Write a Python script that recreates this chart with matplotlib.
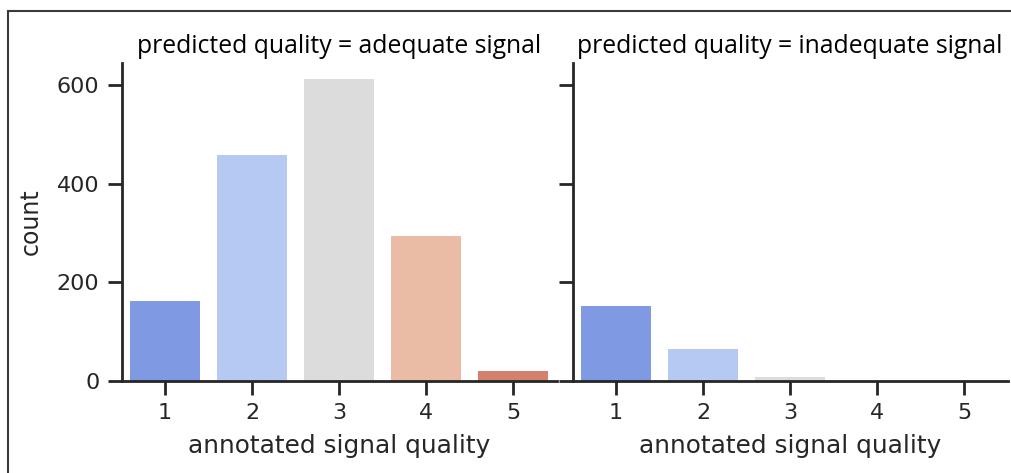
import matplotlib
matplotlib.use("Agg")
import matplotlib.pyplot as plt
from matplotlib.patches import Rectangle

quality = ["1", "2", "3", "4", "5"]
adequate_counts = [162, 458, 612, 294, 20]
inadequate_counts = [152, 65, 8, 0, 0]
bar_colors = ["#7f9ae2", "#b5c9f2", "#dcdcdc", "#eabba5", "#d5806c"]
panel_titles = ["predicted quality = adequate signal",
                "predicted quality = inadequate signal"]

plt.rcParams["font.family"] = "DejaVu Sans"
ink = "#262626"

fig = plt.figure(figsize=(10.11, 4.73), dpi=100)
W, H = 1011, 473

# frame around the figure (cut off at right/bottom in the original)
fig.patches.append(Rectangle((8 / W, -0.1), 1.2, (473 - 11) / H + 0.1,
                             transform=fig.transFigure, fill=False,
                             edgecolor="#3a3a3a", linewidth=1.5))

ax1 = fig.add_axes([121.5 / W, (H - 381) / H, 435 / W, 318 / H])
ax2 = fig.add_axes([572.5 / W, (H - 381) / H, 435 / W, 318 / H], sharey=ax1)

for ax, counts, title in zip([ax1, ax2], [adequate_counts, inadequate_counts], panel_titles):
    x = list(range(len(quality)))
    ax.bar(x, counts, width=0.8, color=bar_colors)
    ax.set_xlim(-0.5, 4.5)
    ax.set_ylim(0, 645)
    ax.set_xticks(x)
    ax.set_xticklabels(quality)
    ax.set_yticks([0, 200, 400, 600])
    for side in ["top", "right"]:
        ax.spines[side].set_visible(False)
    for side in ["left", "bottom"]:
        ax.spines[side].set_linewidth(2)
        ax.spines[side].set_color(ink)
    ax.tick_params(width=2, length=10, color=ink, labelcolor=ink, labelsize=16, pad=6)
    ax.set_xlabel("annotated signal quality", fontsize=17.8, color=ink, labelpad=8)
    ax.set_title(title, fontsize=17.8, family="Open Sans", color="black", pad=7)

ax1.set_ylabel("count", fontsize=17, color=ink, labelpad=10)
plt.setp(ax2.get_yticklabels(), visible=False)

fig.savefig("out.png", dpi=100)
